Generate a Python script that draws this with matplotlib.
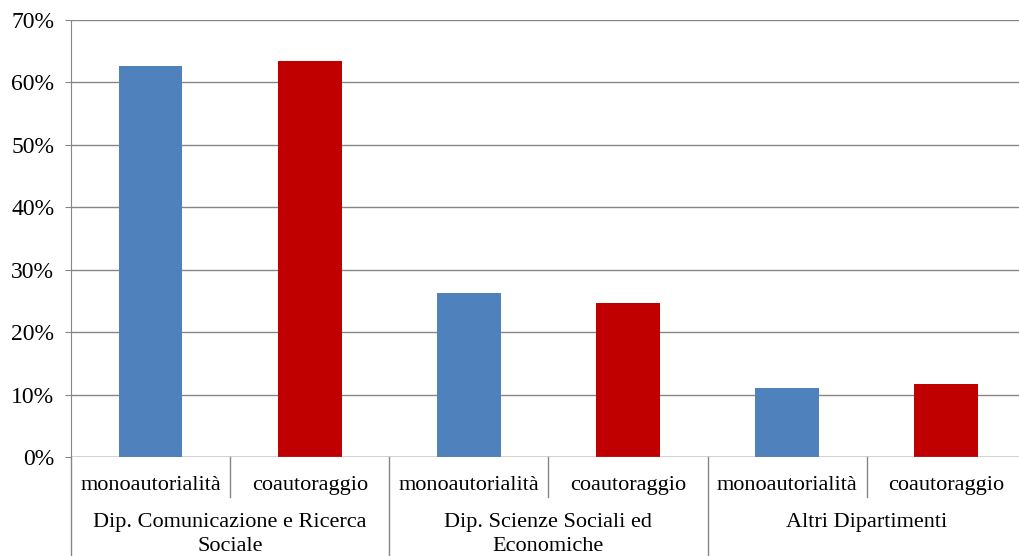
import matplotlib.pyplot as plt
import matplotlib.transforms as mtransforms
import numpy as np
from matplotlib.ticker import PercentFormatter

plt.rcParams["font.family"] = ["Liberation Serif", "DejaVu Serif"]

# quote per dipartimento e tipo di autorialità
gruppi = ["Dip. Comunicazione e Ricerca\nSociale",
          "Dip. Scienze Sociali ed\nEconomiche",
          "Altri Dipartimenti"]
tipi = ["monoautorialità", "coautoraggio"]
mono = [62.6, 26.3, 11.1]
coaut = [63.5, 24.6, 11.7]

valori = [v for coppia in zip(mono, coaut) for v in coppia]
colori = ["#4F81BD", "#C00000"] * len(gruppi)
etichette = tipi * len(gruppi)

fig = plt.figure(figsize=(10.19, 5.56), dpi=100)
ax = fig.add_axes([0.0697, 0.178, 0.937, 0.786])

x = np.arange(len(valori)) + 0.5
ax.bar(x, valori, width=0.4, color=colori, zorder=3)

ax.set_xlim(0, len(valori))
ax.set_ylim(0, 70)
ax.set_yticks(range(0, 71, 10))
ax.yaxis.set_major_formatter(PercentFormatter(decimals=0))
ax.tick_params(axis="y", labelsize=17, length=4, color="#868686", pad=8)
ax.set_xticks([])

ax.grid(axis="y", color="#868686", linewidth=1, zorder=0)
for lato in ["top", "right", "bottom"]:
    ax.spines[lato].set_visible(False)
ax.spines["left"].set_color("#868686")
ax.axhline(0, color="#868686", linewidth=1, zorder=4)

trans = mtransforms.blended_transform_factory(ax.transData, ax.transAxes)

# separatori tra le sottocategorie e tra i gruppi
for i in range(len(valori) + 1):
    basso = -0.23 if i % 2 == 0 else -0.092
    ax.plot([i, i], [0, basso], transform=trans, color="#868686",
            linewidth=1, clip_on=False)

for xi, testo in zip(x, etichette):
    ax.text(xi, -0.066, testo, transform=trans, ha="center", va="center",
            fontsize=16)

# nomi dei gruppi allineati in alto, su una o due righe
for g, nome in enumerate(gruppi):
    ax.text(2 * g + 1, -0.128, nome, transform=trans, ha="center",
            va="top", fontsize=16, linespacing=1.33)

fig.savefig("out.png", dpi=100)
